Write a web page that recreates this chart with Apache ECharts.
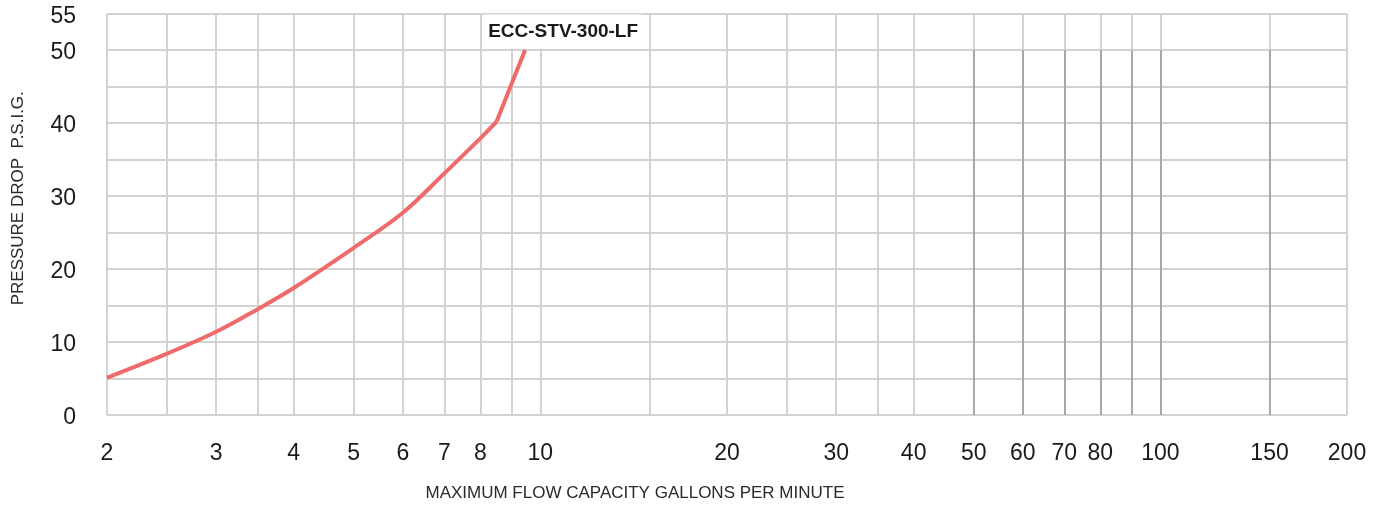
<!DOCTYPE html>
<html><head><meta charset="utf-8">
<script src="https://cdn.jsdelivr.net/npm/echarts@6/dist/echarts.min.js"></script>
<style>html,body{margin:0;padding:0;background:#fff}#c{width:1387px;height:508px}</style>
</head><body><div id="c"></div>
<script>
const seriesName = 'ECC-STV-300-LF';
// smooth lower part of the curve
const flowGpm = [2, 2.5, 3, 3.5, 4, 5, 6, 7, 8, 8.5];
const pressurePsig = [5.1, 8.4, 11.4, 14.5, 17.4, 22.9, 27.7, 33.1, 37.9, 40.2];
// straight upper part after the kink
const flowGpmUpper = [8.5, 9, 9.45];
const pressurePsigUpper = [40.2, 45.5, 50];
const xGridValues = [2, 2.5, 3, 3.5, 4, 5, 6, 7, 8, 9, 10, 15, 20, 25, 30, 35, 40, 50, 60, 70, 80, 90, 100, 150, 200];
const xLabelValues = [2, 3, 4, 5, 6, 7, 8, 10, 20, 30, 40, 50, 60, 70, 80, 100, 150, 200];
const darkGridValues = [50, 60, 70, 80, 90, 100, 150];
const yLabelValues = [0, 10, 20, 30, 40, 50, 55];
const xName = 'MAXIMUM FLOW CAPACITY GALLONS PER MINUTE';
const yName = 'PRESSURE DROP  P.S.I.G.';

const FONT = "'Liberation Sans', Arial, Helvetica, sans-serif";
const LINE_COLOR = '#ef6a6a';
const chart = echarts.init(document.getElementById('c'), null, {renderer: 'canvas'});
const lower = flowGpm.map((x, i) => [x, pressurePsig[i]]);
const upper = flowGpmUpper.map((x, i) => [x, pressurePsigUpper[i]]);
const last = upper[upper.length - 1];

chart.setOption({
  animation: false,
  backgroundColor: '#fff',
  textStyle: {fontFamily: FONT},
  grid: {left: 107, right: 40, top: 13.5, bottom: 93, containLabel: false},
  xAxis: {
    type: 'log', logBase: 10, min: 2, max: 200,
    name: xName, nameLocation: 'middle', nameGap: 70,
    nameTextStyle: {fontSize: 17, color: '#2a2a2a', fontFamily: FONT, padding: [0, 184, 0, 0]},
    axisLine: {show: false},
    axisTick: {show: false, customValues: xGridValues},
    axisLabel: {customValues: xLabelValues, margin: 27, fontSize: 23, color: '#1a1a1a', fontFamily: FONT},
    splitLine: {show: true, lineStyle: {color: '#d2d2d2', width: 2}},
    minorSplitLine: {show: false}
  },
  yAxis: {
    type: 'value', min: 0, max: 55, interval: 5,
    name: yName, nameLocation: 'middle', nameGap: 80, nameRotate: 90,
    nameTextStyle: {fontSize: 17, color: '#2a2a2a', fontFamily: FONT, padding: [0, 0, 0, 32]},
    axisLine: {show: false},
    axisTick: {show: false},
    axisLabel: {
      customValues: yLabelValues, margin: 31,
      formatter: v => '{v|' + v + '}',
      rich: {v: {fontSize: 23, color: '#1a1a1a', fontFamily: FONT, padding: [6, 0, 0, 0]}}
    },
    splitLine: {show: true, lineStyle: {color: '#d2d2d2', width: 2}}
  },
  series: [{
    name: seriesName,
    type: 'line',
    data: lower,
    showSymbol: false,
    smooth: 0.35,
    lineStyle: {color: LINE_COLOR, width: 4},
    itemStyle: {color: LINE_COLOR},
    z: 3,
    markLine: {
      silent: true, symbol: 'none', animation: false,
      label: {show: false},
      lineStyle: {color: '#a8a8a8', width: 2, type: 'solid'},
      data: darkGridValues.map(v => [{coord: [v, 0]}, {coord: [v, 50]}])
    }
  }, {
    name: seriesName,
    type: 'line',
    data: upper,
    showSymbol: false,
    smooth: false,
    lineStyle: {color: LINE_COLOR, width: 4},
    itemStyle: {color: LINE_COLOR},
    z: 3,
    markPoint: {
      silent: true, animation: false,
      symbol: 'circle', symbolSize: 1,
      itemStyle: {color: 'rgba(0,0,0,0)'},
      label: {
        show: true, formatter: seriesName, position: 'top', distance: 1, offset: [38, 0],
        fontSize: 19, fontWeight: 'bold', color: '#1a1a1a', fontFamily: FONT,
        backgroundColor: '#fff', padding: [7, 4], lineHeight: 20
      },
      data: [{coord: last}]
    }
  }]
});
</script></body></html>
